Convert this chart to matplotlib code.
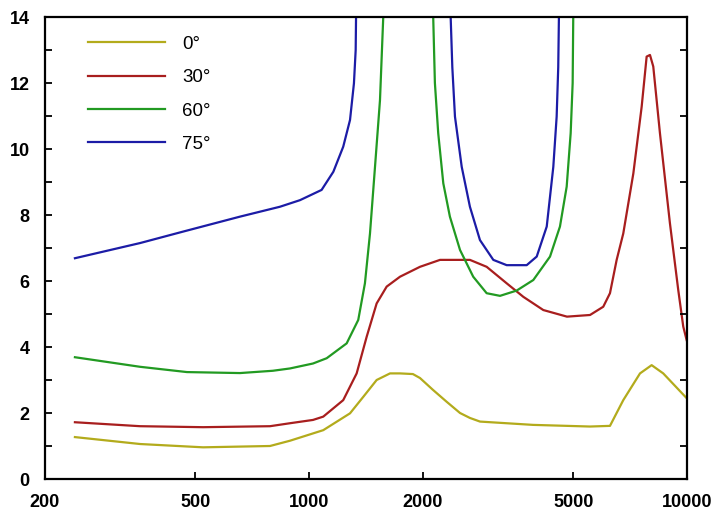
import numpy as np
import matplotlib
matplotlib.use("Agg")
import matplotlib.pyplot as plt

plt.rcParams['font.family'] = ['Liberation Sans', 'DejaVu Sans']

nan = np.nan

labels = ["0°", "30°", "60°", "75°"]
colors = ["#b3ab1c", "#a81e1e", "#229a22", "#1c1ca6"]

f0 = [240, 357, 524, 788, 890, 1090, 1283, 1391, 1509, 1637, 1740, 1882, 1965, 2127, 2312, 2508, 2664, 2833,
      3912, 5538, 6254, 6782, 7510, 8062, 8652, 9978]
v0 = [1.27, 1.06, 0.96, 1.0, 1.16, 1.48, 1.99, 2.49, 3.0, 3.2, 3.2, 3.18, 3.06, 2.7, 2.34, 2.0, 1.85, 1.74,
      1.64, 1.59, 1.61, 2.39, 3.2, 3.45, 3.2, 2.45]

f30 = [240, 357, 524, 788, 890, 1024, 1090, 1231, 1336, 1420, 1509, 1604, 1740, 1965, 2220, 2664, 2950,
       3333, 3689, 4166, 4812, 5538, 6003, 6254, 6514, 6782, 7211, 7586, 7820, 7980, 8142, 8480, 9012,
       9480, 9774, 9978]
v30 = [1.72, 1.6, 1.57, 1.6, 1.69, 1.79, 1.89, 2.39, 3.2, 4.31, 5.32, 5.83, 6.13, 6.43, 6.64, 6.64, 6.43,
       5.93, 5.52, 5.12, 4.92, 4.97, 5.22, 5.63, 6.64, 7.44, 9.26, 11.28, 12.8, 12.85, 12.5, 10.48, 7.75,
       5.73, 4.62, 4.21]

f60 = [240, 357, 475, 656, 802, 890, 1024, 1113, 1257, 1349, 1405, 1449, 1494, 1540, 1571, 1580,
       1800,
       2120, 2130, 2152, 2196, 2265, 2358, 2508, 2718, 2950, 3200, 3542, 3920, 4340, 4611, 4804, 4922,
       4982, 5000, 5010]
v60 = [3.69, 3.4, 3.24, 3.21, 3.28, 3.35, 3.5, 3.66, 4.11, 4.82, 5.93, 7.44, 9.46, 11.48, 14.0, 14.6,
       nan,
       14.6, 14.0, 12.0, 10.48, 8.96, 7.95, 6.94, 6.13, 5.63, 5.55, 5.71, 6.03, 6.74, 7.65, 8.86, 10.48,
       12.0, 14.0, 14.6]

f75 = [240, 357, 465, 656, 837, 946, 1079, 1159, 1231, 1283, 1314, 1328, 1331, 1335,
       1800,
       2355, 2369, 2393, 2432, 2534, 2664, 2832, 3072, 3333, 3765, 4002, 4254, 4428, 4519, 4563, 4582,
       4590]
v75 = [6.69, 7.15, 7.5, 7.95, 8.25, 8.45, 8.76, 9.31, 10.07, 10.88, 11.99, 13.0, 14.0, 14.6,
       nan,
       14.6, 14.0, 12.48, 10.98, 9.46, 8.25, 7.24, 6.64, 6.48, 6.48, 6.74, 7.65, 9.46, 10.98, 12.48, 14.0,
       14.6]

series = [(f0, v0), (f30, v30), (f60, v60), (f75, v75)]

fig = plt.figure(figsize=(7.17, 5.11), dpi=100)
ax = fig.add_axes([45/717, 32/511, 642/717, 462/511])

for (f, v), c, lab in zip(series, colors, labels):
    ax.plot(f, v, color=c, lw=1.6, label=lab, solid_joinstyle='round')

ax.set_xscale('log')
ax.set_xlim(200, 10000)
ax.set_ylim(0, 14)

xt = [200, 500, 1000, 2000, 5000, 10000]
ax.set_xticks(xt)
ax.set_xticklabels([str(t) for t in xt])
ax.xaxis.set_minor_locator(matplotlib.ticker.NullLocator())
ax.set_yticks(np.arange(0, 15, 2))
ax.set_yticks(np.arange(1, 14, 2), minor=True)

ax.tick_params(axis='both', which='both', direction='in', length=5, width=1.3,
               labelsize=13, top=False, right=False)
ax.tick_params(axis='y', which='both', pad=11)
ax.tick_params(axis='x', which='both', pad=11)
for lab in ax.get_xticklabels() + ax.get_yticklabels():
    lab.set_fontweight('bold')

# right side ticks at odd values
axr = ax.twinx()
axr.set_ylim(0, 14)
axr.set_yticks(np.arange(1, 14, 2))
axr.tick_params(axis='y', direction='in', length=5, width=1.3, labelright=False)
for sp in axr.spines.values():
    sp.set_visible(False)

for sp in ax.spines.values():
    sp.set_linewidth(1.6)

leg = ax.legend(loc='upper left', bbox_to_anchor=(0.055, 0.976), frameon=False,
                fontsize=13.5, handlelength=4.1, handletextpad=0.95, labelspacing=0.87,
                borderaxespad=0.0)

fig.savefig("out.png", dpi=100)
